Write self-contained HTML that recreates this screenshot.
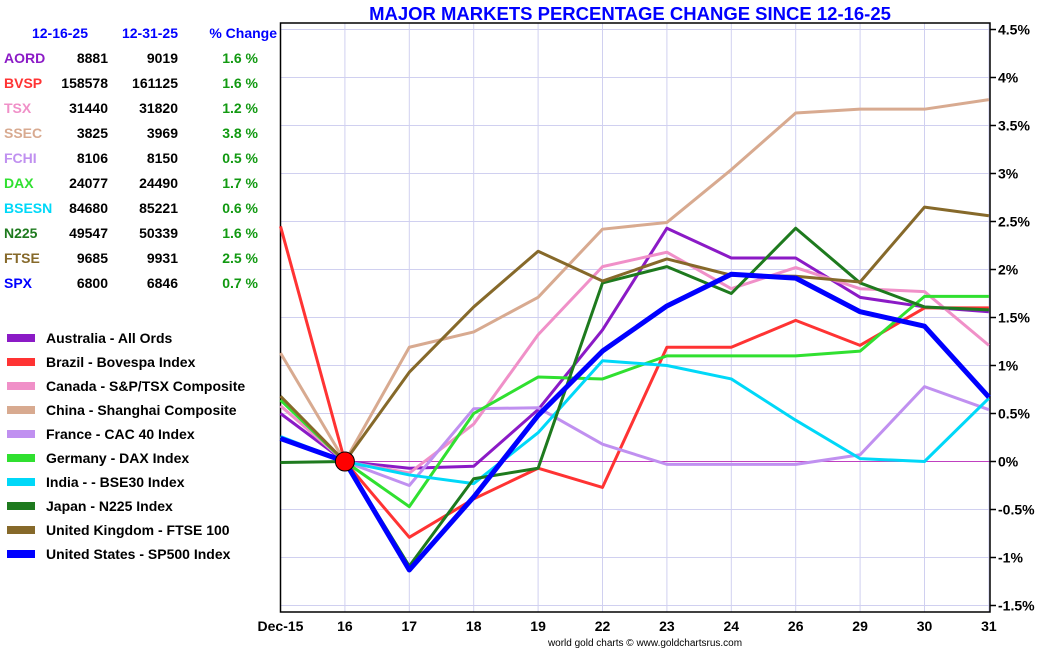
<!DOCTYPE html>
<html><head><meta charset="utf-8">
<style>
body{margin:0;width:1050px;height:650px;background:#fff;overflow:hidden;font-family:"Liberation Sans",Arial,sans-serif;}
svg text{font-family:"Liberation Sans",Arial,sans-serif;font-weight:bold;}
</style></head>
<body>
<svg id="chart" width="1050" height="650" xmlns="http://www.w3.org/2000/svg">
<text x="630" y="20" text-anchor="middle" font-size="18.5" fill="#0000ff">MAJOR MARKETS PERCENTAGE CHANGE SINCE 12-16-25</text>
<g id="grid"></g>
<g id="axes"></g>
<g id="series"></g>
<g id="table"></g>
<g id="legend"></g>
<text x="645" y="646" text-anchor="middle" font-size="10" fill="#000" style="font-weight:normal">world gold charts © www.goldchartsrus.com</text>
</svg>
<script>
const categories=["Dec-15","16","17","18","19","22","23","24","26","29","30","31"];
const yTicks=[-1.5,-1,-0.5,0,0.5,1,1.5,2,2.5,3,3.5,4,4.5];
const symbols=["AORD","BVSP","TSX","SSEC","FCHI","DAX","BSESN","N225","FTSE","SPX"];
const legendLabels=["Australia - All Ords","Brazil - Bovespa Index","Canada - S&P/TSX Composite","China - Shanghai Composite","France - CAC 40 Index","Germany - DAX Index","India -  - BSE30 Index","Japan - N225 Index","United Kingdom - FTSE 100","United States - SP500 Index"];
const colors=["#8b1ac6","#ff3333","#f090c8","#d8aa90","#c090f0","#30e030","#00d8f8","#1e7a1e","#86692a","#0000ff"];
const startVals=["8881","158578","31440","3825","8106","24077","84680","49547","9685","6800"];
const endVals=["9019","161125","31820","3969","8150","24490","85221","50339","9931","6846"];
const pctChange=["1.6 %","1.6 %","1.2 %","3.8 %","0.5 %","1.7 %","0.6 %","1.6 %","2.5 %","0.7 %"];
const aord=[0.5,0,-0.07,-0.05,0.54,1.37,2.43,2.12,2.12,1.71,1.61,1.56];
const bvsp=[2.45,0,-0.79,-0.39,-0.07,-0.27,1.19,1.19,1.47,1.21,1.6,1.6];
const tsx=[0.58,0,-0.12,0.39,1.32,2.03,2.18,1.8,2.02,1.8,1.77,1.21];
const ssec=[1.13,0,1.19,1.35,1.71,2.42,2.49,3.04,3.63,3.67,3.67,3.77];
const fchi=[0.23,0,-0.25,0.55,0.56,0.18,-0.03,-0.03,-0.03,0.07,0.78,0.54];
const dax=[0.64,0,-0.47,0.5,0.88,0.86,1.1,1.1,1.1,1.15,1.72,1.72];
const bsesn=[0.26,0,-0.14,-0.23,0.3,1.05,1.0,0.86,0.43,0.03,0.0,0.66];
const n225=[-0.01,0,-1.09,-0.18,-0.07,1.86,2.03,1.75,2.43,1.86,1.61,1.58];
const ftse=[0.68,0,0.93,1.61,2.19,1.88,2.11,1.94,1.93,1.87,2.65,2.56];
const spx=[0.24,0,-1.13,-0.37,0.48,1.15,1.62,1.95,1.91,1.56,1.41,0.67];
const seriesData=[aord,bvsp,tsx,ssec,fchi,dax,bsesn,n225,ftse,spx];
const widths=[3,3,3,3,3,3,3,3,3,5];
const NS="http://www.w3.org/2000/svg";
const X0=280.5,XS=64.4,Y0=461.5,YS=96;
function xs(i){return X0+XS*i;}
function ys(v){return Y0-v*YS;}
function mk(tag,attrs,parent){const e=document.createElementNS(NS,tag);for(const k in attrs)e.setAttribute(k,attrs[k]);parent.appendChild(e);return e;}
const gridG=document.getElementById('grid'),axesG=document.getElementById('axes'),serG=document.getElementById('series'),tblG=document.getElementById('table'),legG=document.getElementById('legend');
const yTop=23,yBot=612,xRight=990;
categories.forEach((c,i)=>{
 const l=mk('line',{x1:xs(i),x2:xs(i),y1:yTop,y2:yBot,stroke:'#d0d0f0','stroke-width':1},gridG);
 
 
 const t=mk('text',{x:xs(i),y:631,'text-anchor':'middle','font-size':14,fill:'#000'},axesG);
 t.textContent=c;
 
 
});
yTicks.forEach(v=>{
 const l=mk('line',{x1:X0,x2:xRight,y1:ys(v),y2:ys(v),stroke:v===0?'#c040c0':'#d0d0f0','stroke-width':1},gridG);
 
 
 const tk=mk('line',{x1:xRight,x2:xRight+6,y1:ys(v),y2:ys(v),stroke:'#000','stroke-width':1.5},axesG);
 
 
 const t=mk('text',{x:xRight+8,y:ys(v)+5,'font-size':14,fill:'#000'},axesG);
 t.textContent=v+'%';
 
 
});
const frame=mk('rect',{x:X0,y:yTop,width:xRight-X0,height:yBot-yTop,fill:'none',stroke:'#000','stroke-width':1.5},axesG);


seriesData.forEach((d,s)=>{
 const p=mk('polyline',{points:d.map((v,i)=>xs(i)+','+ys(v)).join(' '),fill:'none',stroke:colors[s],'stroke-width':widths[s],'stroke-linejoin':'round'},serG);
 
 
});
const dot=mk('circle',{cx:xs(1),cy:ys(0),r:9.5,fill:'#ff0000',stroke:'#000','stroke-width':1},serG);


[["12-16-25",88],["12-31-25",178],["% Change",277]].forEach(h=>{
 const t=mk('text',{x:h[1],y:38,'text-anchor':'end','font-size':14,fill:'#0000ff'},tblG);
 t.textContent=h[0];
 
 
});
symbols.forEach((n,i)=>{
 const y=63+i*25;
 const a=mk('text',{x:4,y:y,'font-size':14,fill:colors[i]},tblG);a.textContent=n;
 
 
 const b=mk('text',{x:108,y:y,'text-anchor':'end','font-size':14,fill:'#000'},tblG);b.textContent=startVals[i];
 
 
 const c=mk('text',{x:178,y:y,'text-anchor':'end','font-size':14,fill:'#000'},tblG);c.textContent=endVals[i];
 
 
 const d=mk('text',{x:258,y:y,'text-anchor':'end','font-size':14,fill:'#119911'},tblG);d.textContent=pctChange[i];
 
 
 const ly=338+i*24;
 const sw=mk('rect',{x:7,y:ly-4,width:28,height:8,fill:colors[i]},legG);
 
 
 const lt=mk('text',{x:46,y:ly+5,'font-size':14,fill:'#000'},legG);lt.textContent=legendLabels[i];
 
 
});
</script>
</body></html>
